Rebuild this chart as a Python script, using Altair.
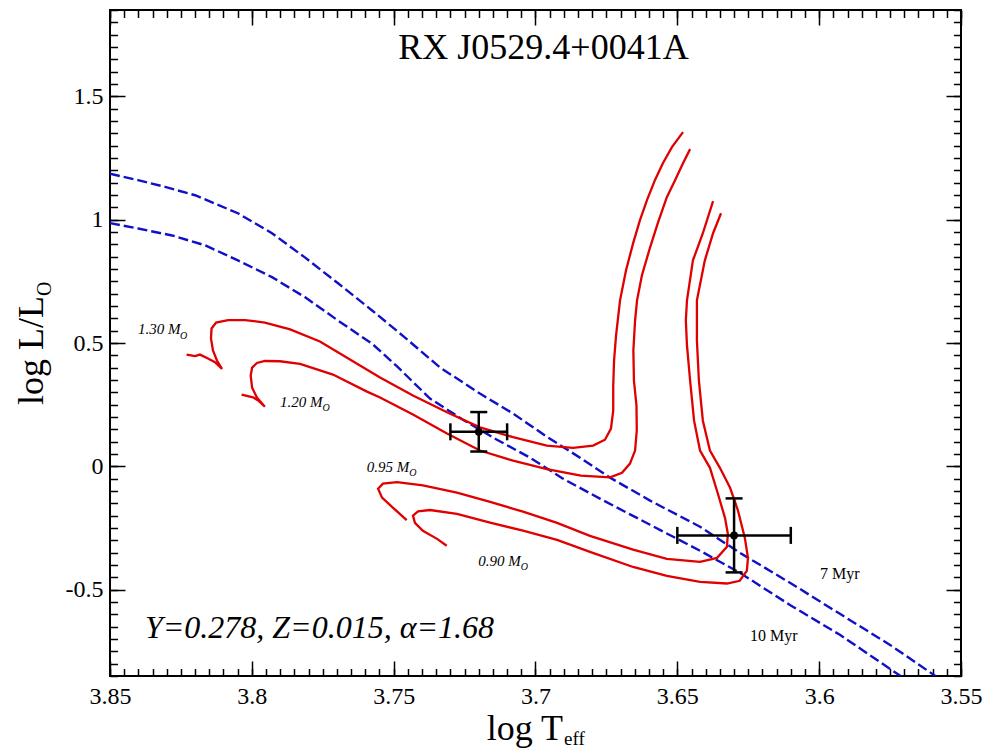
import altair as alt
import pandas as pd

# ---------------- data ----------------
iso7_logT = [3.8500, 3.8401, 3.8306, 3.8200, 3.8049, 3.7929, 3.7813, 3.7696, 3.7576, 3.7460,
             3.7337, 3.7196, 3.7079, 3.6960, 3.6843, 3.6737, 3.6596, 3.6420, 3.6279, 3.6103,
             3.5927, 3.5750, 3.5585]
iso7_logL = [1.186, 1.160, 1.133, 1.099, 1.026, 0.945, 0.847, 0.742, 0.632, 0.522,
             0.401, 0.295, 0.214, 0.120, 0.035, -0.046, -0.139, -0.245, -0.351, -0.472,
             -0.598, -0.724, -0.854]

iso10_logT = [3.8500, 3.8401, 3.8281, 3.8165, 3.8049, 3.7929, 3.7813, 3.7696, 3.7576, 3.7488,
              3.7372, 3.7256, 3.7136, 3.7019, 3.6903, 3.6773, 3.6596, 3.6420, 3.6279, 3.6103,
              3.5927, 3.5708]
iso10_logL = [0.986, 0.964, 0.936, 0.896, 0.835, 0.767, 0.686, 0.591, 0.497, 0.405,
              0.275, 0.189, 0.108, 0.035, -0.050, -0.131, -0.237, -0.342, -0.432, -0.562,
              -0.683, -0.854]

trk130_logT = [3.8230, 3.8200, 3.8183, 3.8158, 3.8130, 3.8105, 3.8123, 3.8137, 3.8144, 3.8142,
               3.8126, 3.8084, 3.8024, 3.7954, 3.7865, 3.7760, 3.7654, 3.7548, 3.7432, 3.7312,
               3.7196, 3.7079, 3.6960, 3.6868, 3.6797, 3.6755, 3.6734, 3.6726, 3.6726, 3.6723,
               3.6716, 3.6702, 3.6681, 3.6656, 3.6632, 3.6607, 3.6579, 3.6551, 3.6519, 3.6480]
trk130_logL = [0.453, 0.447, 0.453, 0.439, 0.422, 0.395, 0.429, 0.470, 0.518, 0.559,
               0.583, 0.593, 0.593, 0.583, 0.555, 0.506, 0.433, 0.360, 0.287, 0.219,
               0.158, 0.118, 0.084, 0.075, 0.084, 0.108, 0.153, 0.226, 0.327, 0.429,
               0.531, 0.673, 0.794, 0.904, 0.997, 1.079, 1.160, 1.229, 1.294, 1.355]

trk120_logT = [3.8036, 3.8014, 3.7996, 3.7975, 3.7954, 3.7982, 3.7999, 3.8004, 3.7999, 3.7982,
               3.7954, 3.7901, 3.7830, 3.7714, 3.7594, 3.7548, 3.7432, 3.7312, 3.7196, 3.7079,
               3.6960, 3.6840, 3.6737, 3.6695, 3.6667, 3.6649, 3.6643, 3.6644, 3.6653, 3.6655,
               3.6649, 3.6642, 3.6625, 3.6596, 3.6568, 3.6537, 3.6508, 3.6480, 3.6455]
trk120_logL = [0.291, 0.285, 0.280, 0.2645, 0.242, 0.279, 0.319, 0.368, 0.4005, 0.419,
               0.427, 0.426, 0.415, 0.372, 0.303, 0.279, 0.210, 0.133, 0.064, 0.023,
               -0.011, -0.038, -0.045, -0.026, 0.011, 0.064, 0.145, 0.246, 0.348, 0.470,
               0.591, 0.673, 0.774, 0.888, 0.989, 1.091, 1.160, 1.229, 1.286]

trk095_logT = [3.7454, 3.7502, 3.7541, 3.7555, 3.7538, 3.7488, 3.7397, 3.7277, 3.7160, 3.7044,
               3.6924, 3.6808, 3.6656, 3.6537, 3.6420, 3.6360, 3.6325, 3.6322, 3.6332, 3.6357,
               3.6385, 3.6420, 3.6441, 3.6455, 3.6466, 3.6470, 3.6466, 3.6445, 3.6410, 3.6374]
trk095_logL = [-0.218, -0.168, -0.127, -0.091, -0.070, -0.064, -0.077, -0.107, -0.144, -0.184,
               -0.229, -0.282, -0.338, -0.375, -0.387, -0.371, -0.326, -0.273, -0.209, -0.111,
               -0.006, 0.064, 0.185, 0.348, 0.490, 0.591, 0.673, 0.835, 0.945, 1.075]

trk090_logT = [3.7313, 3.7347, 3.7397, 3.7425, 3.7432, 3.7414, 3.7372, 3.7277, 3.7160, 3.7044,
               3.6924, 3.6808, 3.6656, 3.6537, 3.6420, 3.6325, 3.6280, 3.6255, 3.6251, 3.6262,
               3.6286, 3.6314, 3.6350, 3.6385, 3.6410, 3.6424, 3.6431, 3.6431, 3.6403, 3.6374,
               3.6346]
trk090_logL = [-0.322, -0.294, -0.261, -0.229, -0.200, -0.183, -0.177, -0.193, -0.228, -0.261,
               -0.298, -0.347, -0.408, -0.444, -0.468, -0.475, -0.464, -0.424, -0.371, -0.290,
               -0.180, -0.087, -0.006, 0.064, 0.185, 0.348, 0.510, 0.673, 0.835, 0.945,
               1.026]

star_logT = [3.72, 3.63]
star_logL = [0.14, -0.28]
star_errT = [0.01, 0.02]
star_errL = [0.08, 0.15]

mass_labels = ["1.30 M", "1.20 M", "0.95 M", "0.90 M"]
mass_lab_logT = [3.8401, 3.7901, 3.7595, 3.7202]
mass_lab_logL = [0.5345, 0.239, -0.0245, -0.406]
mass_sub = ["O", "O", "O", "O"]
mass_sub_logT = [3.8253, 3.7751, 3.7445, 3.7052]
mass_sub_logL = [0.518, 0.223, -0.041, -0.422]

age_labels = ["7 Myr", "10 Myr"]
age_lab_logT = [3.5997, 3.6244]
age_lab_logL = [-0.457, -0.708]

param_text = ["Y=0.278, Z=0.015, \u03b1=1.68"]
param_logT = [3.8377]
param_logL = [-0.696]

title_text = "RX J0529.4+0041A"
xlab_main, xlab_sub = "log T", "eff"
ylab_main, ylab_sub = "log L/L", "O"

x_major = [3.85, 3.8, 3.75, 3.7, 3.65, 3.6, 3.55]
y_major = [-0.5, 0, 0.5, 1, 1.5]
x_minor = [round(3.55 + 0.005 * i, 3) for i in range(61)]
y_minor = [round(-0.85 + 0.05 * i, 2) for i in range(55)]

# ---------------- tables ----------------
def path_rows(name, T, L, key):
    return [{key: name, "i": i, "logT": t, "logL": l} for i, (t, l) in enumerate(zip(T, L))]

iso_df = pd.DataFrame(path_rows("7 Myr", iso7_logT, iso7_logL, "age")
                      + path_rows("10 Myr", iso10_logT, iso10_logL, "age"))
trk_df = pd.DataFrame(path_rows("1.30", trk130_logT, trk130_logL, "mass")
                      + path_rows("1.20", trk120_logT, trk120_logL, "mass")
                      + path_rows("0.95", trk095_logT, trk095_logL, "mass")
                      + path_rows("0.90", trk090_logT, trk090_logL, "mass"))

star_df = pd.DataFrame({"logT": star_logT, "logL": star_logL,
                        "eT": star_errT, "eL": star_errL})
star_df["t_lo"] = star_df.logT - star_df.eT
star_df["t_hi"] = star_df.logT + star_df.eT
star_df["l_lo"] = star_df.logL - star_df.eL
star_df["l_hi"] = star_df.logL + star_df.eL

capv_df = pd.DataFrame({"logT": list(star_df.t_lo) + list(star_df.t_hi),
                        "logL": list(star_df.logL) * 2})
caph_df = pd.DataFrame({"logT": list(star_df.logT) * 2,
                        "logL": list(star_df.l_lo) + list(star_df.l_hi)})

mlab_df = pd.DataFrame({"t": mass_labels, "logT": mass_lab_logT, "logL": mass_lab_logL})
msub_df = pd.DataFrame({"t": mass_sub, "logT": mass_sub_logT, "logL": mass_sub_logL})
age_df = pd.DataFrame({"t": age_labels, "logT": age_lab_logT, "logL": age_lab_logL})
par_df = pd.DataFrame({"t": param_text, "logT": param_logT, "logL": param_logL})

# ---------------- styling ----------------
W, H = 851, 666
FONT = "Liberation Serif"
RED = "#e00000"
BLUE = "#1010c8"

xs = alt.Scale(domain=[3.55, 3.85], reverse=True, nice=False, zero=False)
ys = alt.Scale(domain=[-0.85, 1.85], nice=False, zero=False)

LABEL_EXPR = "replace(format(datum.value, '.2~f'), '\u2212', '-')"


def label_axis(orient, pad):
    return alt.Axis(orient=orient, values=(x_major if orient == "bottom" else y_major),
                    ticks=False, domain=False, grid=False, title=None,
                    labelFont=FONT, labelFontSize=24, labelColor="black",
                    labelPadding=pad, labelFlush=False, labelOverlap=False,
                    labelBound=False, labelExpr=LABEL_EXPR)


def tick_axis(orient, offset, values, size):
    return alt.Axis(orient=orient, offset=offset, values=values, ticks=True,
                    tickSize=size, tickWidth=1.5, tickColor="black", labels=False,
                    domain=False, grid=False, title=None)


X = lambda f, ax: alt.X(f, type="quantitative", scale=xs, axis=ax)
Y = lambda f, ax: alt.Y(f, type="quantitative", scale=ys, axis=ax)

iso = alt.Chart(iso_df).mark_line(clip=True, color=BLUE, strokeWidth=2.4,
                                  strokeDash=[10, 4]).encode(
    x=X("logT", label_axis("bottom", 8)),
    y=Y("logL", label_axis("left", 7)),
    detail="age:N", order="i:Q")

trk = alt.Chart(trk_df).mark_line(clip=True, color=RED, strokeWidth=2.3).encode(
    x=X("logT", tick_axis("top", -H, x_major, 15)),
    y=Y("logL", tick_axis("right", -W, y_major, 15)),
    detail="mass:N", order="i:Q")

hbar = alt.Chart(star_df).mark_rule(color="black", strokeWidth=2.5).encode(
    x=X("t_lo", tick_axis("bottom", -H, x_major, 15)), x2="t_hi",
    y=Y("logL", tick_axis("left", -W, y_major, 15)))

vbar = alt.Chart(star_df).mark_rule(color="black", strokeWidth=2.5).encode(
    x=X("logT", tick_axis("top", -H, x_minor, 7.5)),
    y=Y("l_lo", tick_axis("right", -W, y_minor, 7.5)), y2="l_hi")

capv = alt.Chart(capv_df).mark_tick(orient="vertical", size=17, thickness=2.5,
                                    color="black", opacity=1).encode(
    x=X("logT", tick_axis("bottom", -H, x_minor, 7.5)),
    y=Y("logL", tick_axis("left", -W, y_minor, 7.5)))

caph = alt.Chart(caph_df).mark_tick(orient="horizontal", size=17, thickness=2.5,
                                    color="black", opacity=1).encode(
    x=X("logT", None), y=Y("logL", None))

pts = alt.Chart(star_df).mark_point(filled=True, size=60, color="black", opacity=1).encode(
    x=X("logT", None), y=Y("logL", None))

mlab = alt.Chart(mlab_df).mark_text(align="left", baseline="alphabetic", font=FONT,
                                    fontStyle="italic", fontSize=15, color="black").encode(
    x=X("logT", None), y=Y("logL", None), text="t:N")
msub = alt.Chart(msub_df).mark_text(align="left", baseline="alphabetic", font=FONT,
                                    fontStyle="italic", fontSize=10, color="black").encode(
    x=X("logT", None), y=Y("logL", None), text="t:N")
alab = alt.Chart(age_df).mark_text(align="left", baseline="alphabetic", font=FONT,
                                   fontSize=16, color="black").encode(
    x=X("logT", None), y=Y("logL", None), text="t:N")
plab = alt.Chart(par_df).mark_text(align="left", baseline="alphabetic", font=FONT,
                                   fontStyle="italic", fontSize=32, color="black").encode(
    x=X("logT", None), y=Y("logL", None), text="t:N")


def free_text(txt, px, py, size, align="left", angle=0):
    return alt.Chart(pd.DataFrame({"t": [txt]})).mark_text(
        align=align, baseline="alphabetic", font=FONT, fontSize=size,
        color="black", angle=angle).encode(
        text="t:N", x=alt.value(px), y=alt.value(py))


title = free_text(title_text, 433.5, 49.3, 36, align="center")
xt1 = free_text(xlab_main, 376.7, 730, 36)
xt2 = free_text(xlab_sub, 454, 735, 19)
yt1 = free_text(ylab_main, -67, 395, 36, angle=270)
yt2 = free_text(ylab_sub, -59, 286, 20, angle=270)

chart = alt.layer(iso, trk, hbar, vbar, capv, caph, pts, mlab, msub, alab, plab,
                  title, xt1, xt2, yt1, yt2).resolve_axis(
    x="independent", y="independent"
).properties(
    width=W, height=H,
    padding={"left": 110, "top": 10, "right": 28, "bottom": 75},
    autosize=alt.AutoSizeParams(type="none"),
    background="white",
).configure_view(stroke="black", strokeWidth=2)

chart.save("out.html", embed_options={"renderer": "svg", "actions": False})
